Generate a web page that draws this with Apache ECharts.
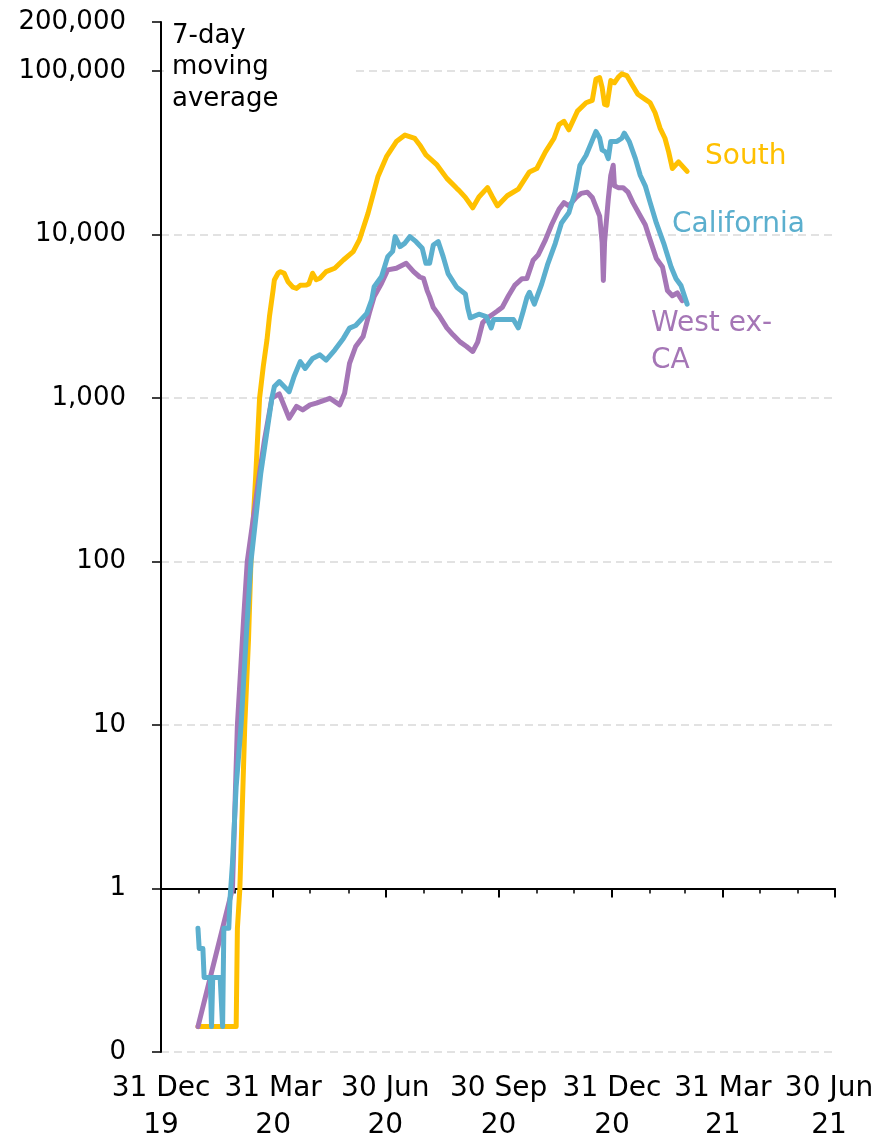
<!DOCTYPE html>
<html><head><meta charset="utf-8">
<script src="https://cdn.jsdelivr.net/npm/echarts@6/dist/echarts.min.js"></script>
<style>html,body{margin:0;padding:0;background:#fff}#c{width:874px;height:1145px}</style>
</head><body><div id="c"></div>
<script>
const southDates = ['2020-01-30','2020-03-01','2020-03-02','2020-03-04','2020-03-08','2020-03-11','2020-03-13','2020-03-17','2020-03-20','2020-03-23','2020-03-26','2020-03-28','2020-03-31','2020-04-01','2020-04-04','2020-04-06','2020-04-09','2020-04-12','2020-04-16','2020-04-19','2020-04-22','2020-04-27','2020-04-29','2020-05-02','2020-05-05','2020-05-08','2020-05-13','2020-05-20','2020-05-27','2020-06-04','2020-06-09','2020-06-16','2020-06-24','2020-07-01','2020-07-09','2020-07-16','2020-07-24','2020-07-28','2020-08-02','2020-08-11','2020-08-19','2020-08-27','2020-08-29','2020-09-03','2020-09-09','2020-09-14','2020-09-21','2020-09-25','2020-09-29','2020-10-07','2020-10-16','2020-10-25','2020-10-31','2020-11-07','2020-11-14','2020-11-18','2020-11-22','2020-11-26','2020-12-03','2020-12-10','2020-12-15','2020-12-18','2020-12-21','2020-12-23','2020-12-25','2020-12-27','2020-12-30','2021-01-02','2021-01-05','2021-01-08','2021-01-12','2021-01-16','2021-01-21','2021-01-27','2021-01-31','2021-02-04','2021-02-08','2021-02-12','2021-02-15','2021-02-18','2021-02-23','2021-03-02'];
const southValues = [0.143,0.143,0.571,1,10,33,100,350,1000,1560,2270,3150,4590,5280,5810,5940,5800,5170,4770,4690,4900,4920,5000,5810,5300,5410,5940,6230,7000,7870,9290,13500,22600,30000,37100,40700,38800,35400,30800,26700,22100,19200,18600,16900,14600,17000,19400,17000,15000,17300,19000,24200,25400,32100,38900,47100,49400,43800,57000,64100,66300,89500,91300,79600,62700,62000,87700,85000,91800,96400,94000,83600,72300,67300,64100,55700,44900,38900,32100,25400,27900,24400];

const caDates = ['2020-01-30','2020-01-31','2020-02-03','2020-02-04','2020-02-09','2020-02-10','2020-02-11','2020-02-17','2020-02-19','2020-02-20','2020-02-24','2020-02-25','2020-02-26','2020-02-27','2020-03-01','2020-03-05','2020-03-09','2020-03-13','2020-03-21','2020-03-30','2020-04-01','2020-04-05','2020-04-13','2020-04-17','2020-04-22','2020-04-26','2020-05-02','2020-05-08','2020-05-13','2020-05-20','2020-05-27','2020-06-01','2020-06-06','2020-06-15','2020-06-19','2020-06-21','2020-06-27','2020-07-02','2020-07-06','2020-07-08','2020-07-12','2020-07-16','2020-07-20','2020-07-25','2020-07-30','2020-08-02','2020-08-05','2020-08-08','2020-08-12','2020-08-16','2020-08-20','2020-08-27','2020-09-03','2020-09-05','2020-09-07','2020-09-14','2020-09-20','2020-09-24','2020-09-26','2020-10-05','2020-10-12','2020-10-16','2020-10-20','2020-10-23','2020-10-25','2020-10-29','2020-11-04','2020-11-09','2020-11-15','2020-11-20','2020-11-26','2020-12-01','2020-12-05','2020-12-10','2020-12-14','2020-12-18','2020-12-21','2020-12-23','2020-12-26','2020-12-28','2020-12-30','2021-01-04','2021-01-08','2021-01-10','2021-01-14','2021-01-19','2021-01-23','2021-01-27','2021-01-31','2021-02-05','2021-02-11','2021-02-17','2021-02-21','2021-02-25','2021-03-02'];
const caValues = [0.571,0.429,0.429,0.286,0.286,0.143,0.286,0.286,0.143,0.571,0.571,0.857,0.857,1.43,4.2,10,33,100,348,1000,1177,1262,1096,1355,1672,1520,1750,1840,1710,1970,2320,2680,2780,3300,3990,4810,5540,7340,7900,9730,8450,8880,9730,9060,8260,6680,6680,8650,9060,7340,5780,4770,4340,3550,3100,3260,3150,2690,3030,3030,3030,2690,3410,4130,4440,3760,5000,6660,8850,11800,13600,18200,26600,30600,36200,42800,39000,33000,32000,29200,37200,37200,38900,41800,37200,29200,23000,19900,15700,11800,8850,6350,5380,4890,3760];

const westDates = ['2020-01-30','2020-02-27','2020-03-02','2020-03-07','2020-03-10','2020-03-20','2020-03-24','2020-03-30','2020-04-05','2020-04-13','2020-04-19','2020-04-24','2020-04-30','2020-05-05','2020-05-16','2020-05-24','2020-05-28','2020-06-01','2020-06-06','2020-06-12','2020-06-17','2020-06-21','2020-06-27','2020-07-02','2020-07-09','2020-07-17','2020-07-23','2020-07-28','2020-07-31','2020-08-03','2020-08-05','2020-08-08','2020-08-13','2020-08-19','2020-08-24','2020-08-30','2020-09-04','2020-09-09','2020-09-13','2020-09-17','2020-09-21','2020-09-25','2020-09-29','2020-10-03','2020-10-08','2020-10-13','2020-10-19','2020-10-23','2020-10-28','2020-11-01','2020-11-07','2020-11-12','2020-11-18','2020-11-22','2020-11-26','2020-12-02','2020-12-06','2020-12-11','2020-12-15','2020-12-21','2020-12-23','2020-12-24','2020-12-25','2020-12-28','2020-12-30','2021-01-01','2021-01-02','2021-01-05','2021-01-09','2021-01-13','2021-01-17','2021-01-23','2021-01-27','2021-01-31','2021-02-05','2021-02-10','2021-02-14','2021-02-18','2021-02-22','2021-02-26'];
const westValues = [0.143,1,10,44,100,348,555,1000,1061,753,890,847,909,931,998,909,1070,1630,2070,2380,3300,4180,5050,6090,6230,6680,5940,5510,5410,4550,4180,3580,3180,2690,2440,2200,2070,1930,2200,2890,3100,3250,3410,3600,4230,4890,5380,5400,6980,7500,9290,11500,14300,15700,15000,16900,17900,18200,16900,13000,9000,5250,9000,16500,23000,26600,19900,19400,19400,18200,15700,13000,11500,9290,7140,6350,4550,4230,4400,3950];

const quarterTicks = ['2019-12-31','2020-03-31','2020-06-30','2020-09-30','2020-12-31','2021-03-31','2021-06-30'];
const monthTicks = ['2019-12-31','2020-01-31','2020-02-29','2020-03-31','2020-04-30','2020-05-31','2020-06-30','2020-07-31','2020-08-31','2020-09-30','2020-10-31','2020-11-30','2020-12-31','2021-01-31','2021-02-28','2021-03-31','2021-04-30','2021-05-31','2021-06-30'];
const monthNames = ['Jan','Feb','Mar','Apr','May','Jun','Jul','Aug','Sep','Oct','Nov','Dec'];
const seriesNames = ['South','California','West ex-CA'];
const yMin = 0.1, yMax = 200000;

const COLORS = {south:'#FFC000', ca:'#5BAFCE', west:'#A576B6'};
const FONT = 'DejaVu Sans';
const W = 874, HT = 1145;
const G = {left:161, right:39, top:22, bottom:93};
const gridH = HT - G.top - G.bottom;
const axisOffset = -gridH * (0 - Math.log10(yMin)) / (Math.log10(yMax) - Math.log10(yMin));
const LINE_W = 5;

function ts(s){ const p = s.split('-').map(Number); return new Date(p[0], p[1]-1, p[2]).getTime(); }
function pairs(d, v){ return d.map((x,i)=>[ts(x), v[i]]); }
function lineSeries(name, d, v, color, z){
  return {name, type:'line', data:pairs(d,v), showSymbol:false, symbol:'none', z,
    itemStyle:{color}, lineStyle:{color, width:LINE_W, cap:'round', join:'round'},
    emphasis:{disabled:true}};
}
const xMin = ts(quarterTicks[0]), xMax = ts(quarterTicks[quarterTicks.length-1]);

const chart = echarts.init(document.getElementById('c'), null, {renderer:'canvas', width:W, height:HT});
chart.setOption({
  animation:false,
  backgroundColor:'#fff',
  grid:{left:G.left, right:G.right, top:G.top, bottom:G.bottom, containLabel:false, outerBoundsMode:'none'},
  xAxis:[
    {type:'value', min:xMin, max:xMax, position:'bottom', offset:axisOffset,
     axisLine:{show:true, onZero:false, lineStyle:{color:'#000', width:2}},
     axisTick:{show:true, customValues:monthTicks.map(ts), length:5, inside:false, lineStyle:{color:'#000', width:1.5}},
     axisLabel:{show:false}, splitLine:{show:false}},
    {type:'value', min:xMin, max:xMax, position:'bottom', offset:axisOffset,
     axisLine:{show:false, onZero:false},
     axisTick:{show:true, customValues:quarterTicks.map(ts), length:9, inside:false, lineStyle:{color:'#000', width:2}},
     axisLabel:{show:true, customValues:quarterTicks.map(ts), margin:182, color:'#000', fontFamily:FONT, fontSize:28, lineHeight:37,
       hideOverlap:false, showMinLabel:true, showMaxLabel:true,
       rich:{last:{color:'#000', fontFamily:FONT, fontSize:28, lineHeight:37, padding:[0,12,0,0]}},
       formatter:function(v){
         const d=new Date(v);
         const a = d.getDate()+' '+monthNames[d.getMonth()], b = String(d.getFullYear()).slice(2);
         return v >= xMax ? '{last|'+a+'}\n{last|'+b+'}' : a+'\n'+b;
       }},
     splitLine:{show:false}}
  ],
  yAxis:{type:'log', logBase:10, min:yMin, max:yMax,
    axisLine:{show:true, onZero:false, lineStyle:{color:'#000', width:2}},
    axisTick:{show:true, length:9, lineStyle:{color:'#000', width:1.5}},
    axisLabel:{color:'#000', fontFamily:FONT, fontSize:26, margin:35, showMinLabel:true, showMaxLabel:true,
      formatter:function(v){ return v < 0.5 ? '0' : Math.round(v).toLocaleString('en-US'); }},
    splitLine:{show:true, showMinLine:true, showMaxLine:false, lineStyle:{color:'#D9D9D9', type:[8,5], width:1.5}}},
  series:[
    lineSeries(seriesNames[0], southDates, southValues, COLORS.south, 2),
    lineSeries(seriesNames[2], westDates, westValues, COLORS.west, 3),
    lineSeries(seriesNames[1], caDates, caValues, COLORS.ca, 4)
  ],
  graphic:[
    {type:'rect', shape:{x:164, y:24, width:189, height:95}, style:{fill:'#fff'}, z:1, silent:true},
    {type:'text', x:172, y:20, z:2, silent:true, style:{text:'7-day\nmoving\naverage', font:'26px "DejaVu Sans"', fill:'#000', lineHeight:31.5, verticalAlign:'top'}},
    {type:'text', x:705, y:156.5, z:2, silent:true, style:{text:'South', font:'28px "DejaVu Sans"', fill:COLORS.south, verticalAlign:'middle'}},
    {type:'text', x:672, y:225, z:2, silent:true, style:{text:'California', font:'28px "DejaVu Sans"', fill:COLORS.ca, verticalAlign:'middle'}},
    {type:'text', x:651, y:324, z:2, silent:true, style:{text:'West ex-', font:'28px "DejaVu Sans"', fill:COLORS.west, verticalAlign:'middle'}},
    {type:'text', x:651, y:360.5, z:2, silent:true, style:{text:'CA', font:'28px "DejaVu Sans"', fill:COLORS.west, verticalAlign:'middle'}}
  ]
});
</script>
</body></html>
